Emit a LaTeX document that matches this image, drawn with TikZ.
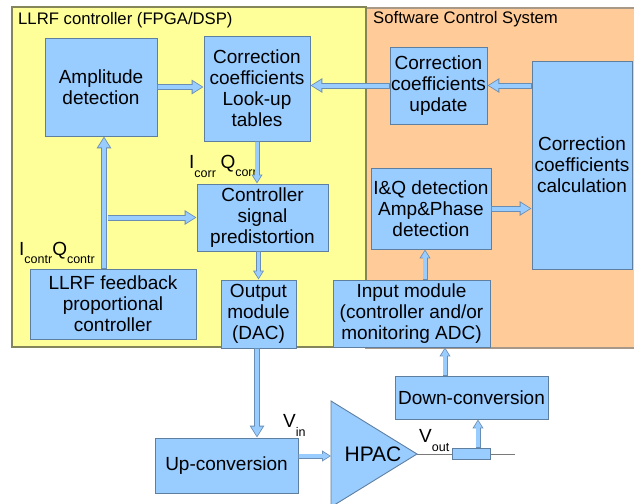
\documentclass[tikz,border=0pt]{standalone}
\usepackage{fontspec}
\setmainfont{Liberation Sans}
\usetikzlibrary{arrows.meta,calc}

\definecolor{fpgafill}{HTML}{FFFF99}
\definecolor{fpgaedge}{HTML}{85855A}
\definecolor{swfill}{HTML}{FFCC99}
\definecolor{swedge}{HTML}{A89888}
\definecolor{boxfill}{HTML}{99CCFF}
\definecolor{boxedge}{HTML}{5F7FA0}
\definecolor{arrowedge}{HTML}{6A8DB4}
\definecolor{wire}{HTML}{7A7A7A}

\newcommand{\subtxt}[2]{\raisebox{-#1}{\fontsize{12.5}{12.5}\selectfont #2}}

\tikzset{
  block/.style={draw=boxedge, fill=boxfill, line width=0.9pt, align=center,
    inner sep=0pt, font=\fontsize{19}{21}\selectfont},
  panel/.style={line width=1.2pt},
  title/.style={anchor=base west, inner sep=0pt, font=\fontsize{16.7}{18}\selectfont},
  sig/.style={anchor=base west, inner sep=0pt, font=\fontsize{19}{21}\selectfont},
  flow/.style={line width=6pt, draw=arrowedge,
    -{Triangle[length=12pt,width=14pt]},
    postaction={draw=boxfill, line width=4pt,
      -{Triangle[length=9.4pt,width=10.8pt]}, shorten >=1.5pt, shorten <=0.6pt}},
  flowsmall/.style={line width=5pt, draw=arrowedge,
    -{Triangle[length=9pt,width=10.5pt]},
    postaction={draw=boxfill, line width=3.2pt,
      -{Triangle[length=6.8pt,width=7.6pt]}, shorten >=1.4pt, shorten <=0.6pt}},
}

\begin{document}
\begin{tikzpicture}[x=1pt,y=-1pt]
\useasboundingbox (0,0) rectangle (634,503);

% system areas
\filldraw[panel, fill=swfill, draw=swedge] (366,8) rectangle (640,348);
\filldraw[panel, fill=fpgafill, draw=fpgaedge] (12,7) rectangle (366,347);
\node[title] (fpgatitle) at (18,25) {LLRF controller (FPGA/DSP)};
\node[title] (swtitle) at (373,24) {Software Control System};

% controller blocks
\node[block, minimum width=112pt, minimum height=98pt] (amp) at (101,87) {Amplitude\\detection};
\node[block, minimum width=106pt, minimum height=105pt] (lut) at (257,88.5) {Correction\\coefficients\\Look-up\\tables};
\node[block, minimum width=131pt, minimum height=67pt] (pre) at (262.5,217.5) {Controller\\signal\\predistortion};
\node[block, minimum width=166pt, minimum height=70pt] (fb) at (113,304) {LLRF feedback\\proportional\\controller};
\node[block, minimum width=75pt, minimum height=68pt] (out) at (258.5,314) {Output\\module\\(DAC)};

% software blocks
\node[block, minimum width=97pt, minimum height=77pt] (upd) at (438.5,85.5) {Correction\\coefficients\\update};
\node[block, minimum width=100pt, minimum height=208pt] (calc) at (582,165) {Correction\\coefficients\\calculation};
\node[block, minimum width=120pt, minimum height=81pt] (iq) at (431,208.5) {I\&Q detection\\Amp\&Phase\\detection};
\node[block, minimum width=157pt, minimum height=67pt] (inp) at (411.5,313.5) {Input module\\(controller and/or\\monitoring ADC)};

% RF chain
\node[block, minimum width=153pt, minimum height=43pt] (down) at (471.5,397.5) {Down-conversion};
\node[block, minimum width=143pt, minimum height=55pt] (up) at (226.5,465.5) {Up-conversion};
\filldraw[fill=boxfill, draw=boxedge, line width=0.9pt] (331,401) -- (417,454) -- (331,507) -- cycle;
\node[inner sep=0pt, font=\fontsize{21}{21}\selectfont] (hpac) at (373,454) {HPAC};
\coordinate (hpacin) at (331,456);
\coordinate (hpactip) at (417,454);
\coordinate (lineend) at (515,454);
\draw[wire, line width=0.8pt] (hpactip) -- (lineend);
\node[block, minimum width=38pt, minimum height=11pt] (tap) at (471,453.5) {};

% signal labels
\node[sig] (icorr) at (189,168) {I\subtxt{9pt}{corr}\hspace{4.5pt}Q\subtxt{8pt}{corr}};
\node[sig] (icontr) at (19,255) {I\subtxt{8pt}{contr}Q\subtxt{8pt}{contr}};
\node[sig] (vin) at (283,427) {V\subtxt{9pt}{in}};
\node[sig] (vout) at (419,442) {V\subtxt{9pt}{out}};

% connectors
\draw[flow] ([xshift=-9pt]fb.north) -- ([xshift=-9pt]fb.north |- amp.south);
\draw[flow] ([xshift=-89pt]pre.west) -- (pre.west);
\draw[flow] (amp.east) -- (amp.east -| lut.west);
\draw[flow] (upd.west) -- (upd.west -| lut.east);
\draw[flow] (calc.west |- upd.east) -- (upd.east);
\draw[flow] (iq.east) -- (iq.east -| calc.west);
\draw[flowsmall] (lut.south) -- (lut.south |- pre.north);
\draw[flowsmall] (out.north |- pre.south) -- (out.north);
\draw[flow] ([xshift=-1.5pt]out.south) -- ([xshift=-1.5pt]out.south |- up.north);
\draw[flowsmall] ([yshift=9.5pt]up.east) -- ([yshift=9.5pt]up.east -| hpacin);
\draw[flowsmall] ([xshift=-6pt]iq.south |- inp.north) -- ([xshift=-6pt]iq.south);
\draw[flowsmall] ([xshift=-26.5pt]down.north) -- ([xshift=-26.5pt]down.north |- inp.south);
\draw[flowsmall] ([xshift=7pt]tap.north) -- ([xshift=7pt]tap.north |- down.south);
\end{tikzpicture}
\end{document}
